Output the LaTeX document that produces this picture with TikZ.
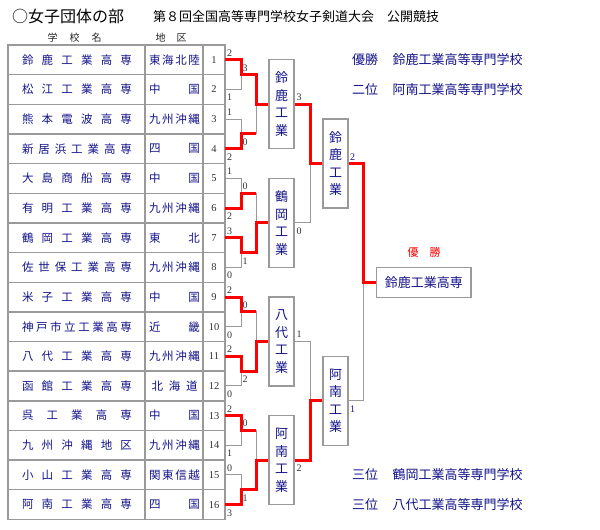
\documentclass[tikz,border=0pt]{standalone}
\usepackage{fontspec}
\setmainfont{Liberation Serif}
\newfontfamily\jp{Noto Sans CJK JP}
\definecolor{nv}{HTML}{14148A}
\definecolor{lg}{HTML}{9A9A9A}
\definecolor{rd}{HTML}{FF0000}
\definecolor{tx}{HTML}{333333}
\newcommand\fs[1]{\fontsize{#1}{#1}\selectfont}
\newcommand\hf{\hfill}
\begin{document}
\begin{tikzpicture}[x=1pt,y=-1pt,
  grid/.style={draw=lg,line width=1.4pt},
  gl/.style={draw=lg,line width=1pt},
  rl/.style={draw=rd,line width=3pt,line join=miter},
  box/.style={draw=lg,line width=1.3pt,fill=white,inner sep=0pt,text=nv,
     font={\jp\fontsize{13}{17.5}\selectfont},align=center},
  sc/.style={text=tx,font=\fs{10},inner sep=0pt},
  ssc/.style={text=nv,font=\fs{10},inner sep=0pt},
  tb/.style={text=nv,font={\jp\fs{11.5}},inner sep=0pt},
  hd/.style={text=black!85,font={\jp\fs{10}},inner sep=0pt},
  rt/.style={text=nv,font={\jp\fs{13}},inner sep=0pt,anchor=west}]
\useasboundingbox[fill=white] (0,0) rectangle (600,530);

% titles
\node[anchor=west,inner sep=0pt,font={\jp\fs{16}}] (title) at (12,16) {○女子団体の部};
\node[anchor=west,inner sep=0pt,font={\jp\fs{13}}] (sub) at (153,17) {第８回全国高等専門学校女子剣道大会　公開競技};
\node[hd] (h1) at (74.5,38) {\makebox[54pt]{学\hf 校\hf 名}};
\node[hd] (h2) at (171,38) {\makebox[31pt]{地\hf 区}};

% table
\draw[grid] (8,45) rectangle (225,519.4);
\draw[grid] (145,45) -- (145,519.4);
\draw[grid] (203,45) -- (203,519.4);
\foreach \i in {1,...,15} \draw[grid] (8,{45+29.65*\i}) -- (225,{45+29.65*\i});

\foreach \nm/\rg/\rw [count=\i] in {
 {鈴\hf 鹿\hf 工\hf 業\hf 高\hf 専}/{東\hf 海\hf 北\hf 陸}/51,
 {松\hf 江\hf 工\hf 業\hf 高\hf 専}/{中\hf 国}/51,
 {熊\hf 本\hf 電\hf 波\hf 高\hf 専}/{九\hf 州\hf 沖\hf 縄}/51,
 {新\hf 居\hf 浜\hf 工\hf 業\hf 高\hf 専}/{四\hf 国}/51,
 {大\hf 島\hf 商\hf 船\hf 高\hf 専}/{中\hf 国}/51,
 {有\hf 明\hf 工\hf 業\hf 高\hf 専}/{九\hf 州\hf 沖\hf 縄}/51,
 {鶴\hf 岡\hf 工\hf 業\hf 高\hf 専}/{東\hf 北}/51,
 {佐\hf 世\hf 保\hf 工\hf 業\hf 高\hf 専}/{九\hf 州\hf 沖\hf 縄}/51,
 {米\hf 子\hf 工\hf 業\hf 高\hf 専}/{中\hf 国}/51,
 {神\hf 戸\hf 市\hf 立\hf 工\hf 業\hf 高\hf 専}/{近\hf 畿}/51,
 {八\hf 代\hf 工\hf 業\hf 高\hf 専}/{九\hf 州\hf 沖\hf 縄}/51,
 {函\hf 館\hf 工\hf 業\hf 高\hf 専}/{北\hf 海\hf 道}/46,
 {呉\hf 工\hf 業\hf 高\hf 専}/{中\hf 国}/51,
 {九\hf 州\hf 沖\hf 縄\hf 地\hf 区}/{九\hf 州\hf 沖\hf 縄}/51,
 {小\hf 山\hf 工\hf 業\hf 高\hf 専}/{関\hf 東\hf 信\hf 越}/51,
 {阿\hf 南\hf 工\hf 業\hf 高\hf 専}/{四\hf 国}/51}{
  \pgfmathsetmacro\yy{45+29.65*(\i-0.5)}
  \node[tb] (n\i) at (77,\yy) {\makebox[110pt]{\nm}};
  \node[tb] (g\i) at (174.5,\yy) {\makebox[\rw pt]{\rg}};
  \node[sc,font=\fs{10.5}] (k\i) at (214,\yy) {\i};
}

% gray bracket lines
\foreach \k in {1,...,8}{
  \pgfmathsetmacro\ya{45+29.65*(2*\k-1.5)}
  \pgfmathsetmacro\yb{45+29.65*(2*\k-0.5)}
  \pgfmathsetmacro\ym{45+29.65*(2*\k-1)}
  \draw[gl] (225,\ya) -- (241,\ya) -- (241,\yb) -- (225,\yb);
  \draw[gl] (241,\ym) -- (256,\ym);
}
\foreach \j in {1,...,4}{
  \pgfmathsetmacro\ya{45+29.65*(4*\j-3)}
  \pgfmathsetmacro\yb{45+29.65*(4*\j-1)}
  \pgfmathsetmacro\ym{45+29.65*(4*\j-2)}
  \draw[gl] (241,\ya) -- (256,\ya) -- (256,\yb) -- (241,\yb);
  \draw[gl] (256,\ym) -- (269,\ym);
}
\draw[gl] (294,104.3) -- (310,104.3) -- (310,222.9) -- (294,222.9);
\draw[gl] (310,163.6) -- (323,163.6);
\draw[gl] (294,341.5) -- (310,341.5) -- (310,460.1) -- (294,460.1);
\draw[gl] (310,400.8) -- (323,400.8);
\draw[gl] (348,163.6) -- (363.5,163.6) -- (363.5,400.8) -- (348,400.8);
\draw[gl] (363.5,282.2) -- (376.5,282.2);

% red winning paths
\draw[rl] (225,59.825) -- (241,59.825) -- (241,74.65) -- (256,74.65) -- (256,104.3) -- (269,104.3);
\draw[rl] (294,104.3) -- (310,104.3) -- (310,163.6) -- (323,163.6);
\draw[rl] (348,163.6) -- (363.5,163.6) -- (363.5,282.2) -- (376.5,282.2);
\draw[rl] (225,148.775) -- (241,148.775) -- (241,133.95) -- (256,133.95);
\draw[rl] (225,208.075) -- (241,208.075) -- (241,193.25) -- (256,193.25);
\draw[rl] (225,237.725) -- (241,237.725) -- (241,252.55) -- (256,252.55) -- (256,222.9) -- (269,222.9);
\draw[rl] (225,297.025) -- (241,297.025) -- (241,311.85) -- (256,311.85);
\draw[rl] (225,356.325) -- (241,356.325) -- (241,371.15) -- (256,371.15) -- (256,341.5) -- (269,341.5);
\draw[rl] (225,415.625) -- (241,415.625) -- (241,430.45) -- (256,430.45);
\draw[rl] (225,504.575) -- (241,504.575) -- (241,489.75) -- (256,489.75) -- (256,460.1) -- (269,460.1);
\draw[rl] (294,460.1) -- (310,460.1) -- (310,400.8) -- (323,400.8);

% boxes
\node[box,minimum width=25pt,minimum height=89pt] (qf1) at (281.5,104.3) {鈴\\鹿\\工\\業};
\node[box,minimum width=25pt,minimum height=89pt] (qf2) at (281.5,222.9) {鶴\\岡\\工\\業};
\node[box,minimum width=25pt,minimum height=89pt] (qf3) at (281.5,341.5) {八\\代\\工\\業};
\node[box,minimum width=25pt,minimum height=89pt] (qf4) at (281.5,460.1) {阿\\南\\工\\業};
\node[box,minimum width=25pt,minimum height=89pt] (sf1) at (335.5,163.6) {鈴\\鹿\\工\\業};
\node[box,minimum width=25pt,minimum height=89pt] (sf2) at (335.5,400.8) {阿\\南\\工\\業};
\node[box,minimum width=94.5pt,minimum height=30pt] (fin) at (423.75,282.2) {鈴鹿工業高専};
\node[inner sep=0pt,text=rd,font={\jp\fs{11}}] (win) at (424,252) {優\hspace{1em}勝};

% scores round 1
\foreach \i/\s in {1/2,2/1,3/1,4/2,5/1,6/2,7/3,8/0,9/2,10/0,11/2,12/0,13/2,14/1,15/0,16/3}{
  \pgfmathsetmacro\yy{45+29.65*(\i-0.5)-6.8+15*(1-mod(\i,2))}
  \node[sc] (a\i) at (229.5,\yy) {\s};
}
% scores round 2
\foreach \k/\s in {1/3,2/0,3/0,4/1,5/0,6/2,7/0,8/1}{
  \pgfmathsetmacro\yy{45+29.65*(2*\k-1)-6.8+15*(1-mod(\k,2))}
  \node[sc] (b\k) at (245,\yy) {\s};
}
% scores round 3
\foreach \j/\s in {1/3,2/0,3/1,4/2}{
  \pgfmathsetmacro\yy{45+29.65*(4*\j-2)-7+15*(1-mod(\j,2))}
  \node[sc] (c\j) at (299,\yy) {\s};
}
\node[ssc] (d1) at (352.5,157) {2};
\node[ssc] (d2) at (352.5,409) {1};

% results
\node[rt] (p1) at (352,60) {優勝};
\node[rt] (p1n) at (392.5,60) {鈴鹿工業高等専門学校};
\node[rt] (p2) at (352,89.3) {二位};
\node[rt] (p2n) at (392.5,89.3) {阿南工業高等専門学校};
\node[rt] (p3) at (352,474.3) {三位};
\node[rt] (p3n) at (392.5,474.3) {鶴岡工業高等専門学校};
\node[rt] (p4) at (352,504.3) {三位};
\node[rt] (p4n) at (392.5,504.3) {八代工業高等専門学校};
\end{tikzpicture}
\end{document}
